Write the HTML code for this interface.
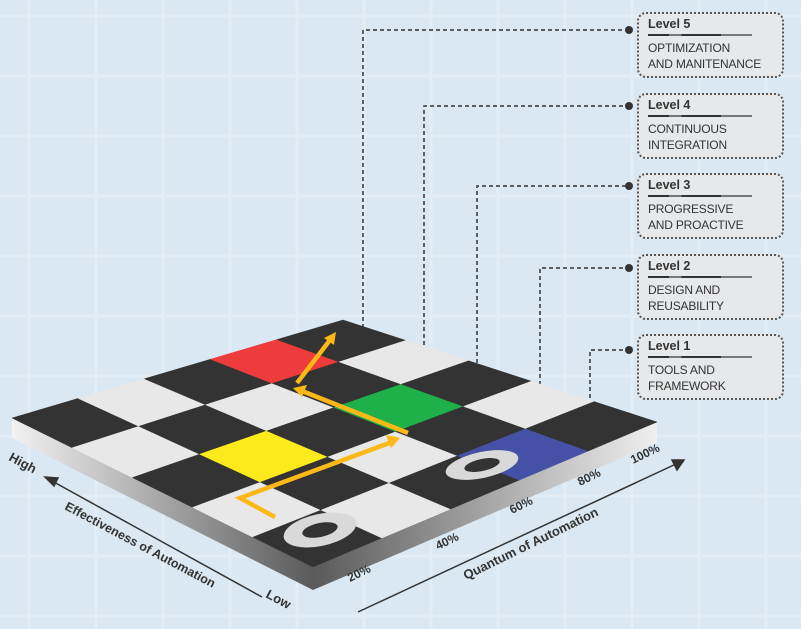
<!DOCTYPE html>
<html><head><meta charset="utf-8"><style>
html,body{margin:0;padding:0;}
body{width:801px;height:629px;overflow:hidden;background:#d9e8f2;position:relative;font-family:"Liberation Sans",sans-serif;}
.box{position:absolute;left:637px;width:147px;height:66px;border:2px dotted #555;border-radius:9px;background:#e7e8ea;box-sizing:border-box;}
.box .t{position:absolute;left:9px;top:3px;font-weight:bold;font-size:12.5px;color:#333;}
.box .u{position:absolute;left:9px;top:20px;width:104px;height:2px;background:linear-gradient(90deg,#333 0 20%,#777 20% 32%,#333 32% 70%,#777 70% 100%);}
.box .d{position:absolute;left:9px;top:26px;font-size:12px;line-height:16px;color:#333;letter-spacing:-0.2px;}
</style></head><body>
<svg id="s" width="801" height="629" style="position:absolute;left:0;top:0">
<defs>
<linearGradient id="gl" x1="0" y1="0" x2="1" y2="0"><stop offset="0" stop-color="#f2f2f2"/><stop offset="1" stop-color="#5a5a5a"/></linearGradient>
<linearGradient id="gr" x1="0" y1="0" x2="1" y2="0"><stop offset="0" stop-color="#5a5a5a"/><stop offset="1" stop-color="#efefef"/></linearGradient>
</defs>
<g id="grid"></g>
<g fill="none" stroke="#333" stroke-width="1.5" stroke-dasharray="4,3">
<polyline points="363,335 363,30 628,30"/>
<polyline points="424,345 424,106 628,106"/>
<polyline points="477,363 477,186 628,186"/>
<polyline points="540,385 540,268 628,268"/>
<polyline points="590,398 590,350 628,350"/>
</g>
<g fill="#333"><circle cx="629" cy="30" r="4"/><circle cx="629" cy="106" r="4"/><circle cx="629" cy="186" r="4"/><circle cx="629" cy="268" r="4"/><circle cx="629" cy="350" r="4"/></g>
<polygon points="12,418 313,567 313,590 12,438" fill="url(#gl)"/>
<polygon points="313,567 657,422 657,443 313,590" fill="url(#gr)"/>
<g id="cells"></g>
<g fill="#d9d9d9"><ellipse cx="320" cy="530" rx="37" ry="16" transform="rotate(-12 320 530)"/><ellipse cx="482" cy="465" rx="37" ry="13" transform="rotate(-12 482 465)"/></g>
<g fill="#333"><ellipse cx="320" cy="530" rx="18" ry="7" transform="rotate(-12 320 530)"/><ellipse cx="482" cy="465" rx="18" ry="6" transform="rotate(-12 482 465)"/></g>
<g fill="none" stroke="#fbb817" stroke-width="4.5">
<polyline points="275,517 240,498 392,442"/>
<line x1="408" y1="433" x2="302" y2="391"/>
<line x1="297" y1="383" x2="330" y2="340"/>
</g>
<g fill="#fbb817">
<polygon points="400,438 386,435 391,448"/>
<polygon points="293,388 307,385 302,397"/>
<polygon points="336,332 324,338 334,345"/>
</g>
<g stroke="#333" stroke-width="1.5" fill="#333">
<line x1="52" y1="481" x2="262" y2="597"/><polygon points="45,477 58,478 54,486"/>
<line x1="358" y1="612" x2="676" y2="464"/><polygon points="684,460 672,460 677,470"/>
</g>
<g font-weight="bold" fill="#333" font-size="13">
<text transform="translate(8,460) rotate(28)">High</text>
<text transform="translate(64,509) rotate(28)" font-size="12.5">Effectiveness of Automation</text>
<text transform="translate(265,597) rotate(28)">Low</text>
<text transform="translate(466,580) rotate(-26)" font-size="13">Quantum of Automation</text>
<text transform="translate(350,582) rotate(-26)" font-size="12">20%</text>
<text transform="translate(438,550) rotate(-26)" font-size="12">40%</text>
<text transform="translate(512,514) rotate(-26)" font-size="12">60%</text>
<text transform="translate(580,486) rotate(-26)" font-size="12">80%</text>
<text transform="translate(633,464) rotate(-26)" font-size="12">100%</text>
</g>
</svg>
<div class="box" style="top:12px"><div class="t">Level 5</div><div class="u"></div><div class="d">OPTIMIZATION<br>AND MANITENANCE</div></div>
<div class="box" style="top:93px"><div class="t">Level 4</div><div class="u"></div><div class="d">CONTINUOUS<br>INTEGRATION</div></div>
<div class="box" style="top:173px"><div class="t">Level 3</div><div class="u"></div><div class="d">PROGRESSIVE<br>AND PROACTIVE</div></div>
<div class="box" style="top:254px"><div class="t">Level 2</div><div class="u"></div><div class="d">DESIGN AND<br>REUSABILITY</div></div>
<div class="box" style="top:334px"><div class="t">Level 1</div><div class="u"></div><div class="d">TOOLS AND<br>FRAMEWORK</div></div>
<script>
(function(){
var g=document.getElementById("grid"),h="";
for(var x=29;x<801;x+=67)h+='<rect x="'+(x-1.5)+'" y="0" width="3" height="629" fill="#e2edf5"/>';
for(var y=16;y<629;y+=60)h+='<rect x="0" y="'+(y-1.5)+'" width="801" height="3" fill="#e2edf5"/>';
g.innerHTML=h;
var L=[12,418],B=[343,320],F=[313,567],R=[657,422];
function P(a,b){return [(1-a)*(1-b)*L[0]+a*(1-b)*B[0]+(1-a)*b*F[0]+a*b*R[0],(1-a)*(1-b)*L[1]+a*(1-b)*B[1]+(1-a)*b*F[1]+a*b*R[1]];}
var sp={"3,0":"#ee3b3b","3,2":"#20b04a","1,2":"#fcea1c","3,4":"#4451a6"};
var c="";
for(var i=0;i<5;i++)for(var j=0;j<5;j++){
var col=sp[i+","+j]||((i+j)%2==0?"#333333":"#e8e8e8");
var p=[P(i/5,j/5),P((i+1)/5,j/5),P((i+1)/5,(j+1)/5),P(i/5,(j+1)/5)];
c+='<polygon points="'+p.map(function(q){return q[0].toFixed(1)+","+q[1].toFixed(1)}).join(" ")+'" fill="'+col+'" stroke="'+col+'" stroke-width="0.5"/>';
}
document.getElementById("cells").innerHTML=c;
})();
</script>
</body></html>
